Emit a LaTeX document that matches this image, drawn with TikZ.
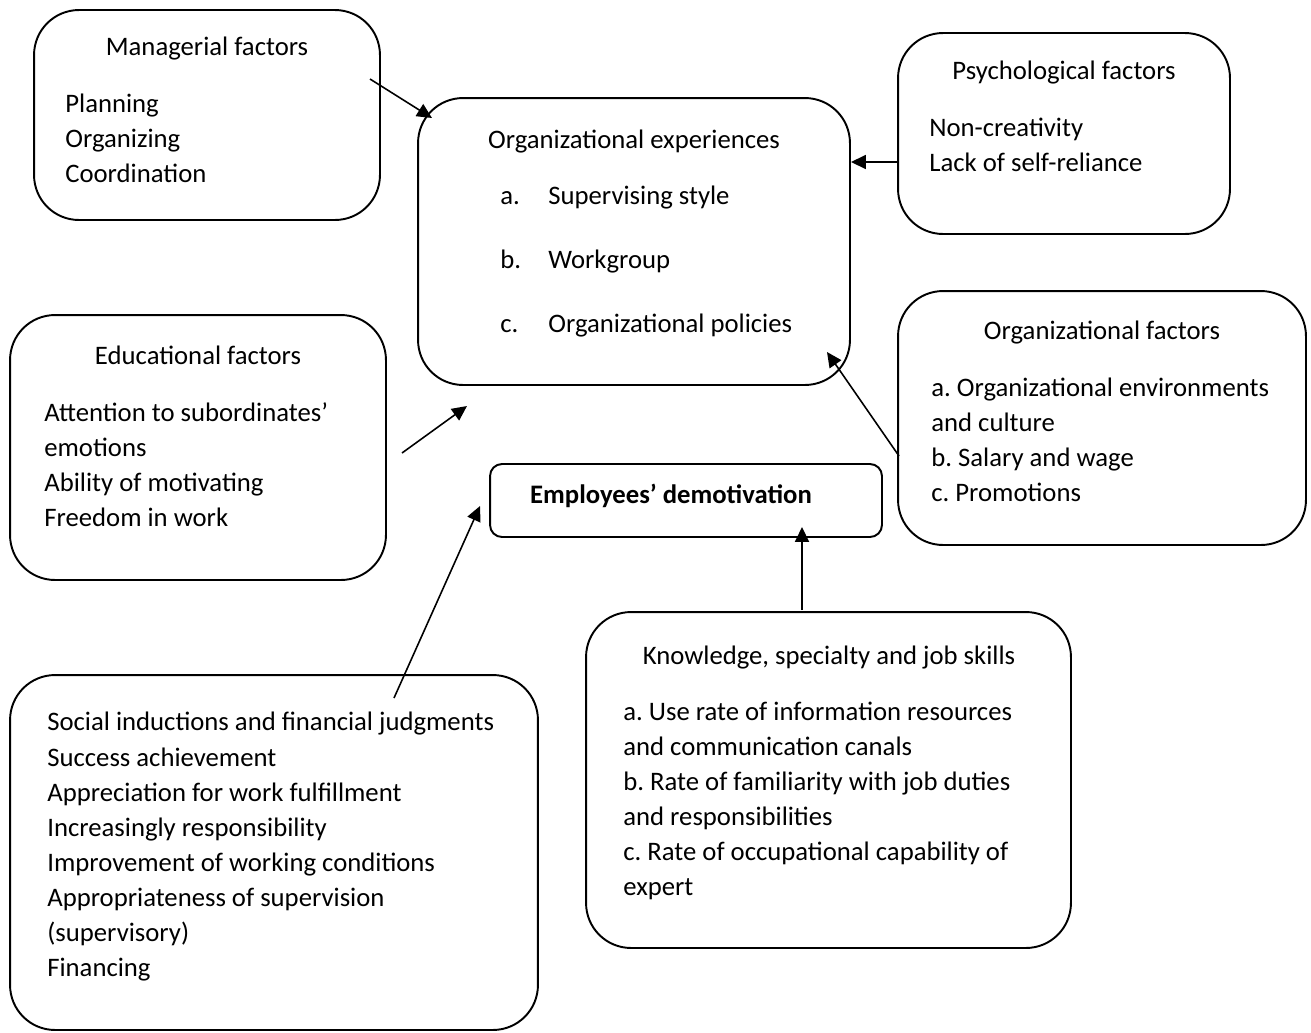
\documentclass[tikz,border=0pt]{standalone}
\usepackage{fontspec}
\setmainfont{Carlito}
\frenchspacing
\usetikzlibrary{arrows.meta,positioning}
\tikzset{
  factorbox/.style={
    draw,
    rectangle,
    rounded corners=0.9cm,
    line width=1.1pt,
    inner sep=0pt,
  },
  mainbox/.style={
    draw,
    rectangle,
    rounded corners=0.24cm,
    line width=1.1pt,
    inner sep=0pt,
  },
  title/.style={anchor=base, yshift=-5pt, inner sep=0pt, font=\fontsize{15.2}{19}\selectfont},
  item/.style={anchor=base west, yshift=-5pt, inner sep=0pt, font=\fontsize{15.2}{19}\selectfont},
  influence/.style={line width=0.9pt, -{Triangle[length=8.5pt,width=8pt]}},
}
\begin{document}
\begin{tikzpicture}[x=0.02cm, y=-0.02cm]
  \useasboundingbox (0,0) rectangle (1311,1032);
  % boxes
  \node[factorbox, minimum width=6.92cm, minimum height=4.2cm] (man) at (207,115) {};
  \node[factorbox, minimum width=8.64cm, minimum height=5.74cm] (orgexp) at (634,241.5) {};
  \node[factorbox, minimum width=6.64cm, minimum height=4.02cm] (psy) at (1064,133.5) {};
  \node[factorbox, minimum width=7.52cm, minimum height=5.3cm] (edu) at (198,447.5) {};
  \node[factorbox, minimum width=8.16cm, minimum height=5.08cm] (orgfac) at (1102,418) {};
  \node[mainbox, minimum width=7.84cm, minimum height=1.46cm] (demot) at (686,500.5) {};
  \node[factorbox, minimum width=10.56cm, minimum height=7.1cm] (soc) at (274,852.5) {};
  \node[factorbox, minimum width=9.7cm, minimum height=6.72cm] (know) at (828.5,780) {};
  % titles
  \node[title] (manT) at (207,47) {Managerial factors};
  \node[title] (orgexpT) at (634,140) {Organizational experiences};
  \node[title] (psyT) at (1064,71) {Psychological factors};
  \node[title] (eduT) at (198,356) {Educational factors};
  \node[title] (orgfacT) at (1102,331) {Organizational factors};
  \node[title, font=\fontsize{15.2}{19}\selectfont\bfseries] (demotT) at (671,495) {Employees’ demotivation};
  \node[title] (knowT) at (829,656) {Knowledge, specialty and job skills};
  % items
  \foreach \txt [count=\i] in {Planning, Organizing, Coordination}
    \node[item] (man\i) at (65,69+35*\i) {\txt};
  \foreach \l/\txt [count=\i] in {a./Supervising style, b./Workgroup, c./Organizational policies} {
    \node[item] (orgexpL\i) at (500,132+64*\i) {\l};
    \node[item] (orgexp\i) at (548,132+64*\i) {\txt};
  }
  \foreach \txt [count=\i] in {Non-creativity, Lack of self-reliance}
    \node[item] (psy\i) at (929,93+35*\i) {\txt};
  \foreach \txt [count=\i] in {Attention to subordinates’, emotions, Ability of motivating, Freedom in work}
    \node[item] (edu\i) at (44,378+35*\i) {\txt};
  \foreach \txt [count=\i] in {a. Organizational environments, and culture, b. Salary and wage, c. Promotions}
    \node[item] (orgfac\i) at (931,353+35*\i) {\txt};
  \foreach \txt [count=\i] in {Social inductions and financial judgments, Success achievement,
      Appreciation for work fulfillment, Increasingly responsibility,
      Improvement of working conditions, Appropriateness of supervision,
      (supervisory), Financing}
    \node[item] (soc\i) at (47,687+35.1*\i) {\txt};
  \foreach \txt [count=\i] in {a. Use rate of information resources, and communication canals,
      b. Rate of familiarity with job duties, and responsibilities,
      c. Rate of occupational capability of, expert}
    \node[item] (know\i) at (623,677+35*\i) {\txt};
  % arrow ends
  \coordinate (manA) at (370,79);
  \coordinate (manB) at (432,118);
  \coordinate (psyA) at (899,162);
  \coordinate (psyB) at (851,162);
  \coordinate (orgfacA) at (899,456);
  \coordinate (orgfacB) at (827,352);
  \coordinate (eduA) at (402,453);
  \coordinate (eduB) at (467,406);
  \coordinate (socA) at (394,698);
  \coordinate (socB) at (480,506);
  \coordinate (knowA) at (802,610);
  \coordinate (knowB) at (802,527);
  \foreach \n in {man,psy,orgfac,edu,soc,know}
    \draw[influence] (\n A) -- (\n B);
\end{tikzpicture}
\end{document}
